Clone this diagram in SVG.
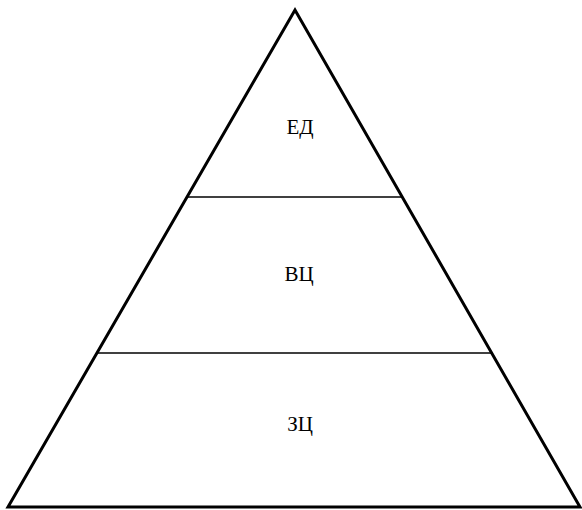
<svg xmlns="http://www.w3.org/2000/svg" width="582" height="510" viewBox="0 0 582 510">
<style>
.tri{fill:#fff;stroke:#000;stroke-width:3;stroke-linejoin:miter}
.div{stroke:#000;stroke-width:1.3}
.lbl{font-family:"Liberation Serif","DejaVu Serif",serif;font-size:21px;fill:#000;text-anchor:middle}
</style>
<rect width="582" height="510" fill="#fff"/>
<g id="pyramid">
<polygon class="tri" points="8,507 295,10 580,507"/>
</g>
<g id="connectors">
<line class="div" x1="187" y1="197" x2="403" y2="197"/>
<line class="div" x1="97" y1="353" x2="493" y2="353"/>
</g>
<g id="node-ed"><text class="lbl" x="300" y="134">ЕД</text></g>
<g id="node-vc"><text class="lbl" x="299" y="281">ВЦ</text></g>
<g id="node-zc"><text class="lbl" x="300" y="431">ЗЦ</text></g>
</svg>
